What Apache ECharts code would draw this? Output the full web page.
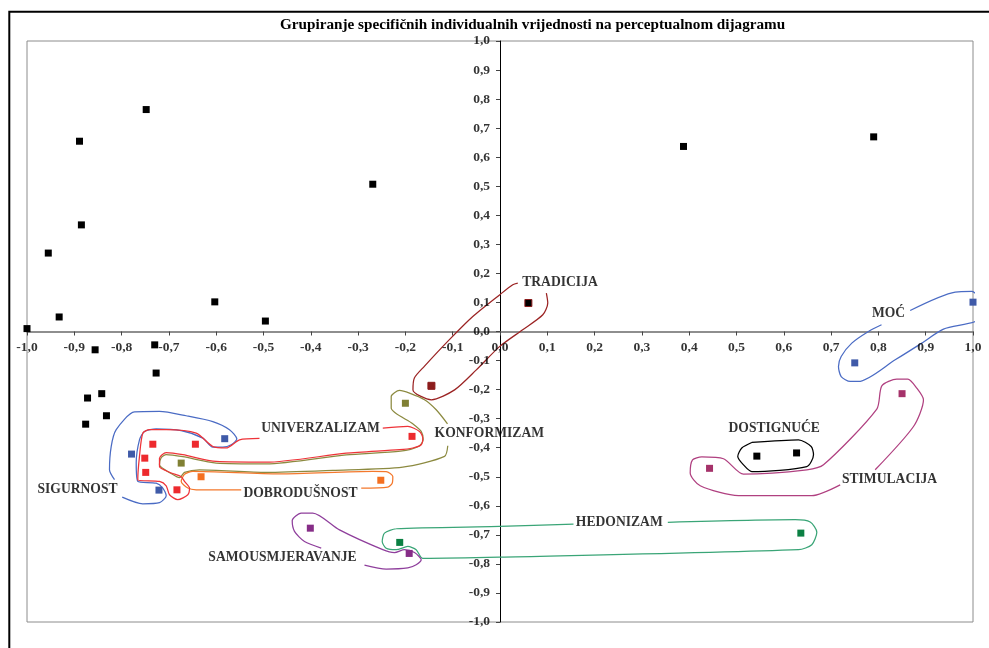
<!DOCTYPE html>
<html><head><meta charset="utf-8">
<script src="https://cdn.jsdelivr.net/npm/echarts@6/dist/echarts.min.js"></script>
<style>html,body{margin:0;padding:0;background:#fff}#c{width:989px;height:648px}</style>
</head><body><div id="c"></div>
<script>
// ---------- DATA ----------
const axisTicks = [-1,-0.9,-0.8,-0.7,-0.6,-0.5,-0.4,-0.3,-0.2,-0.1,0,0.1,0.2,0.3,0.4,0.5,0.6,0.7,0.8,0.9,1];
const otherPoints = [[-1.0,0.01],[-0.955,0.27],[-0.932,0.05],[-0.889,0.655],[-0.885,0.367],[-0.748,0.764],[-0.603,0.102],[-0.496,0.036],[-0.269,0.507],[0.388,0.637],[0.790,0.670],[-0.856,-0.063],[-0.730,-0.046],[-0.727,-0.143],[-0.842,-0.214],[-0.872,-0.229],[-0.832,-0.290],[-0.876,-0.319]];
const dostignuce = [[0.543,-0.429],[0.627,-0.418]];
const tradicija = [[0.060,0.098],[-0.145,-0.187]];
const moc = [[1.0,0.101],[0.750,-0.108]];
const stimulacija = [[0.850,-0.214],[0.443,-0.471]];
const hedonizam = [[0.636,-0.694],[-0.212,-0.726]];
const samousmjeravanje = [[-0.401,-0.677],[-0.192,-0.764]];
const sigurnost = [[-0.779,-0.422],[-0.582,-0.369],[-0.721,-0.546]];
const univerzalizam = [[-0.734,-0.388],[-0.644,-0.388],[-0.751,-0.436],[-0.749,-0.485],[-0.683,-0.545],[-0.186,-0.361]];
const konformizam = [[-0.674,-0.453],[-0.200,-0.247]];
const dobrodusnost = [[-0.632,-0.500],[-0.252,-0.512]];

// hand-drawn group outlines (data coordinates)
const tradicijaOutline = [[0.0376,0.1666],[0.027,0.161],[-0.001,0.126],[-0.0575,0.0516],[-0.107,-0.028],[-0.160,-0.120],[-0.181,-0.160],[-0.184,-0.201],[-0.145,-0.235],[-0.096,-0.201],[-0.050,-0.132],[-0.001,-0.052],[0.048,0.006],[0.0905,0.0575],[0.101,0.098],[0.098,0.132]];
const mocOutline = [[0.8066,0.0231],[0.779,0.0],[0.7438,-0.040],[0.7213,-0.086],[0.7156,-0.1205],[0.7213,-0.155],[0.7404,-0.172],[0.758,-0.172],[0.8355,-0.0974],[0.8918,-0.040],[0.9376,0.0083],[1.0101,0.0379],[1.0186,0.086],[1.0116,0.1205],[0.9975,0.1377],[0.9624,0.1356],[0.8672,0.0723]];
const stimulacijaOutline = [[0.7932,-0.476],[0.8742,-0.327],[0.8953,-0.235],[0.8812,-0.195],[0.8622,-0.164],[0.8389,-0.164],[0.8072,-0.187],[0.7966,-0.267],[0.6839,-0.459],[0.6486,-0.476],[0.5148,-0.491],[0.4725,-0.438],[0.4266,-0.432],[0.407,-0.442],[0.4021,-0.487],[0.4233,-0.531],[0.5042,-0.565],[0.6592,-0.565],[0.7192,-0.528]];
const dostignuceOutline = [[0.5323,-0.382],[0.6311,-0.373],[0.6579,-0.396],[0.6628,-0.424],[0.6486,-0.465],[0.5323,-0.482],[0.5148,-0.459],[0.5027,-0.430],[0.5112,-0.401],[0.5323,-0.382]];
const hedonizamOutline = [[0.1554,-0.663],[-0.001,-0.671],[-0.2194,-0.679],[-0.2442,-0.694],[-0.249,-0.723],[-0.2406,-0.746],[-0.2194,-0.751],[-0.1949,-0.740],[-0.1772,-0.751],[-0.1632,-0.781],[-0.001,-0.777],[0.6311,-0.751],[0.6592,-0.734],[0.6698,-0.691],[0.6558,-0.656],[0.6241,-0.648],[0.3548,-0.657]];
const samousmjeravanjeOutline = [[-0.378,-0.7456],[-0.4133,-0.723],[-0.4345,-0.688],[-0.4393,-0.651],[-0.4203,-0.625],[-0.3958,-0.625],[-0.3393,-0.683],[-0.2478,-0.751],[-0.223,-0.761],[-0.2019,-0.751],[-0.1808,-0.761],[-0.1666,-0.786],[-0.1772,-0.803],[-0.1949,-0.814],[-0.2406,-0.818],[-0.2865,-0.804]];
const sigurnostOutline = [[-0.815,-0.510],[-0.8256,-0.476],[-0.822,-0.396],[-0.8114,-0.338],[-0.7727,-0.277],[-0.7199,-0.275],[-0.6634,-0.290],[-0.6072,-0.310],[-0.5719,-0.338],[-0.5564,-0.370],[-0.5683,-0.390],[-0.586,-0.398],[-0.6072,-0.398],[-0.6283,-0.367],[-0.674,-0.341],[-0.7269,-0.335],[-0.7516,-0.344],[-0.7622,-0.373],[-0.7691,-0.453],[-0.7658,-0.516],[-0.7269,-0.522],[-0.7129,-0.539],[-0.7057,-0.565],[-0.7199,-0.589],[-0.7552,-0.593],[-0.7987,-0.570]];
const univerzalizamOutline = [[-0.5085,-0.368],[-0.5507,-0.373],[-0.5789,-0.401],[-0.6072,-0.396],[-0.6423,-0.350],[-0.7057,-0.338],[-0.7410,-0.338],[-0.7552,-0.350],[-0.7622,-0.430],[-0.7658,-0.510],[-0.7199,-0.516],[-0.7057,-0.531],[-0.6987,-0.562],[-0.6812,-0.579],[-0.66,-0.562],[-0.6564,-0.539],[-0.667,-0.516],[-0.674,-0.500],[-0.6951,-0.487],[-0.7199,-0.465],[-0.7199,-0.436],[-0.7057,-0.417],[-0.6706,-0.424],[-0.60,-0.4475],[-0.4943,-0.450],[-0.3252,-0.419],[-0.2125,-0.407],[-0.1844,-0.401],[-0.1666,-0.390],[-0.1632,-0.367],[-0.1702,-0.344],[-0.1949,-0.327],[-0.2478,-0.3325]];
const konformizamOutline = [[-0.111,-0.3177],[-0.1349,-0.2695],[-0.1596,-0.235],[-0.1913,-0.212],[-0.2125,-0.203],[-0.230,-0.2238],[-0.230,-0.2637],[-0.1844,-0.3177],[-0.1666,-0.344],[-0.1624,-0.373],[-0.1723,-0.396],[-0.2104,-0.412],[-0.3252,-0.4247],[-0.4943,-0.4557],[-0.60,-0.453],[-0.6706,-0.431],[-0.7057,-0.424],[-0.7163,-0.434],[-0.7199,-0.459],[-0.6951,-0.489],[-0.6776,-0.503],[-0.667,-0.485],[-0.6353,-0.476],[-0.4943,-0.485],[-0.3535,-0.478],[-0.2055,-0.467],[-0.1173,-0.430],[-0.1104,-0.3935]];
const dobrodusnostOutline = [[-0.5471,-0.545],[-0.6423,-0.545],[-0.66,-0.539],[-0.674,-0.516],[-0.667,-0.4916],[-0.6495,-0.4815],[-0.4662,-0.490],[-0.2689,-0.4815],[-0.2406,-0.482],[-0.2266,-0.499],[-0.2279,-0.522],[-0.2372,-0.5356],[-0.2934,-0.539]];

const groupNames = ['TRADICIJA','MOĆ','UNIVERZALIZAM','KONFORMIZAM','SIGURNOST','DOBRODUŠNOST','DOSTIGNUĆE','STIMULACIJA','HEDONIZAM','SAMOUSMJERAVANJE'];
const groupLabelX = [0.1268,0.8214,-0.3795,-0.0226,-0.8932,-0.4218,0.5797,0.8235,0.2522,-0.4598];
const groupLabelY = [0.1676,0.0633,-0.334,-0.352,-0.545,-0.559,-0.334,-0.5105,-0.657,-0.779];

// ---------- CHART ----------
const FONT = "'Liberation Serif','Times New Roman',serif";
const chart = echarts.init(document.getElementById('c'), null, {renderer:'canvas'});
const fmt = v => v.toFixed(1).replace('.', ',').replace('-0,0','0,0');

function outline(data, color){
  return {type:'line', data, symbol:'none', smooth:0.25, clip:false, silent:true, z:2,
    lineStyle:{color, width:1.25}};
}
function points(data, color, extra){
  return Object.assign({type:'scatter', data, symbol:'rect', symbolSize:7, z:5, silent:true,
    itemStyle:{color, opacity:1}}, extra||{});
}
const tickLabelStyle = {fontFamily:FONT, fontWeight:'bold', fontSize:13.5, color:'#000'};

chart.setOption({
  animation:false,
  title:{text:'Grupiranje specifičnih individualnih vrijednosti na perceptualnom dijagramu',
    left:280, top:18, padding:0,
    textStyle:{fontFamily:FONT, fontWeight:'bold', fontSize:15.2, color:'#000'}},
  graphic:[{type:'rect', shape:{x:9.3, y:11.8, width:1200, height:900},
    style:{fill:'none', stroke:'#000', lineWidth:2}, silent:true, z:0}],
  grid:{left:27, right:16, top:41, bottom:26, outerBoundsMode:'none', containLabel:false,
    show:true, borderColor:'#8c8c8c', borderWidth:1, backgroundColor:'transparent'},
  xAxis:{type:'value', min:-1, max:1, interval:0.1,
    axisLine:{onZero:true, lineStyle:{color:'#6a6a6a', width:1.5}},
    axisTick:{show:true, inside:false, length:4, lineStyle:{color:'#444'}},
    splitLine:{show:false}, axisLabel:{show:false}},
  yAxis:{type:'value', min:-1, max:1, interval:0.1,
    axisLine:{onZero:true, lineStyle:{color:'#000', width:1}},
    axisTick:{show:true, inside:false, length:4, lineStyle:{color:'#444'}},
    splitLine:{show:false}, axisLabel:{show:false}},
  series:[
    outline(tradicijaOutline,'#9b2323'),
    outline(mocOutline,'#4a6bc4'),
    outline(stimulacijaOutline,'#b04080'),
    outline(dostignuceOutline,'#000'),
    outline(hedonizamOutline,'#3aa577'),
    outline(samousmjeravanjeOutline,'#8f3f9c'),
    outline(sigurnostOutline,'#4a6bc4'),
    outline(konformizamOutline,'#8c8a40'),
    outline(dobrodusnostOutline,'#f4782c'),
    outline(univerzalizamOutline,'#ee3338'),
    points(otherPoints,'#000'),
    points(dostignuce,'#000'),
    points(tradicija,'#8c1c1c',{itemStyle:{opacity:1, color:p=>p.dataIndex===0?'#000':'#8c1c1c', borderColor:'#8c1c1c', borderWidth:1}}),
    points(moc,'#3f5aa8'),
    points(stimulacija,'#a5326a'),
    points(hedonizam,'#0b8043'),
    points(samousmjeravanje,'#862d87'),
    points(sigurnost,'#3f5aa8'),
    points(univerzalizam,'#ed2a2e'),
    points(konformizam,'#808034'),
    points(dobrodusnost,'#f47021'),
    // x-axis tick labels (follow the zero line)
    {type:'scatter', symbolSize:0, silent:true, z:6, clip:false,
      data:axisTicks.map(t=>[t,0]),
      label:Object.assign({show:true, position:'bottom', distance:9, formatter:p=>fmt(p.value[0])}, tickLabelStyle)},
    // y-axis tick labels
    {type:'scatter', symbolSize:0, silent:true, z:6, clip:false,
      data:axisTicks.map(t=>[0,t]),
      label:Object.assign({show:true, position:'left', distance:10, formatter:p=>fmt(p.value[1])}, tickLabelStyle)},
    {type:'scatter', symbolSize:0, silent:true, z:6,
      data:groupNames.map((n,i)=>({name:n, value:[groupLabelX[i], groupLabelY[i]]})),
      label:{show:true, position:'inside', formatter:'{b}', fontFamily:FONT, fontWeight:'bold', fontSize:13.6, color:'#000'}}
  ]
});
</script></body></html>
